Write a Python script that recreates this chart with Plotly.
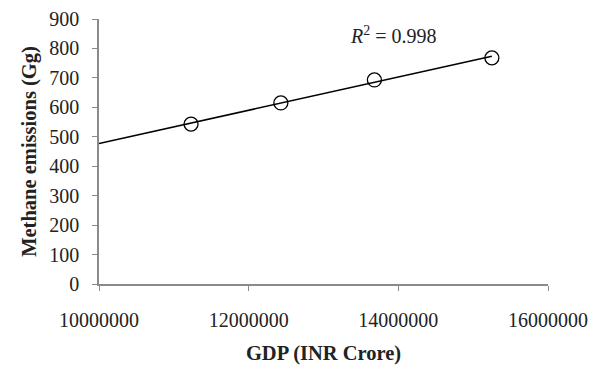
import numpy as np
import plotly.graph_objects as go

gdp = [11230000, 12430000, 13680000, 15250000]
methane = [543, 615, 693, 768]
r2_label = "<i>R</i><sup>2</sup> = 0.998"
x_ticks = [10000000, 12000000, 14000000, 16000000]
y_ticks = [0, 100, 200, 300, 400, 500, 600, 700, 800, 900]

slope, intercept = np.polyfit(gdp, methane, 1)
trend_x = [x_ticks[0], gdp[-1]]
trend_y = [slope * v + intercept for v in trend_x]

fig = go.Figure()
fig.add_trace(go.Scatter(x=trend_x, y=trend_y, mode="lines",
                         line=dict(color="black", width=1.5), showlegend=False))
fig.add_trace(go.Scatter(x=gdp, y=methane, mode="markers",
                         marker=dict(symbol="circle-open", size=14, color="black",
                                     line=dict(width=1.3, color="black")),
                         showlegend=False))

fig.add_annotation(x=13930000, y=846, text=r2_label, showarrow=False,
                   font=dict(family="Liberation Serif", size=20, color="#222"),
                   xanchor="center", yanchor="middle")

fs = 20
fig.update_layout(
    width=600, height=368,
    margin=dict(l=99, r=52, t=19, b=84),
    plot_bgcolor="white", paper_bgcolor="white",
    font=dict(family="Liberation Serif", size=fs, color="#222"),
    xaxis=dict(range=[x_ticks[0], x_ticks[-1]], tickvals=x_ticks,
               ticktext=[str(v) for v in x_ticks], automargin=False,
               tickfont=dict(family="Liberation Serif", size=fs, color="#222"),
               showgrid=False, zeroline=False, showline=True, linecolor="#8a8a8a",
               linewidth=1.5, ticks="outside", ticklen=5, tickcolor="#8a8a8a",
               ticklabelstandoff=12,
               title=dict(text="<b>GDP (INR Crore)</b>", standoff=16,
                          font=dict(family="Liberation Serif", size=20.5, color="#222"))),
    yaxis=dict(range=[0, 900], tickvals=y_ticks, showgrid=False, zeroline=False,
               automargin=False,
               tickfont=dict(family="Liberation Serif", size=fs, color="#222"),
               showline=True, linecolor="#8a8a8a", linewidth=1.5, ticks="outside",
               ticklen=5, tickcolor="#8a8a8a", ticklabelstandoff=9,
               title=dict(text="<b>Methane emissions (Gg)</b>", standoff=7,
                          font=dict(family="Liberation Serif", size=20.5, color="#222"))),
)
fig.write_html("out.html", config={"displayModeBar": False},
               post_script="document.body.style.margin='0';document.body.style.overflow='hidden';")
